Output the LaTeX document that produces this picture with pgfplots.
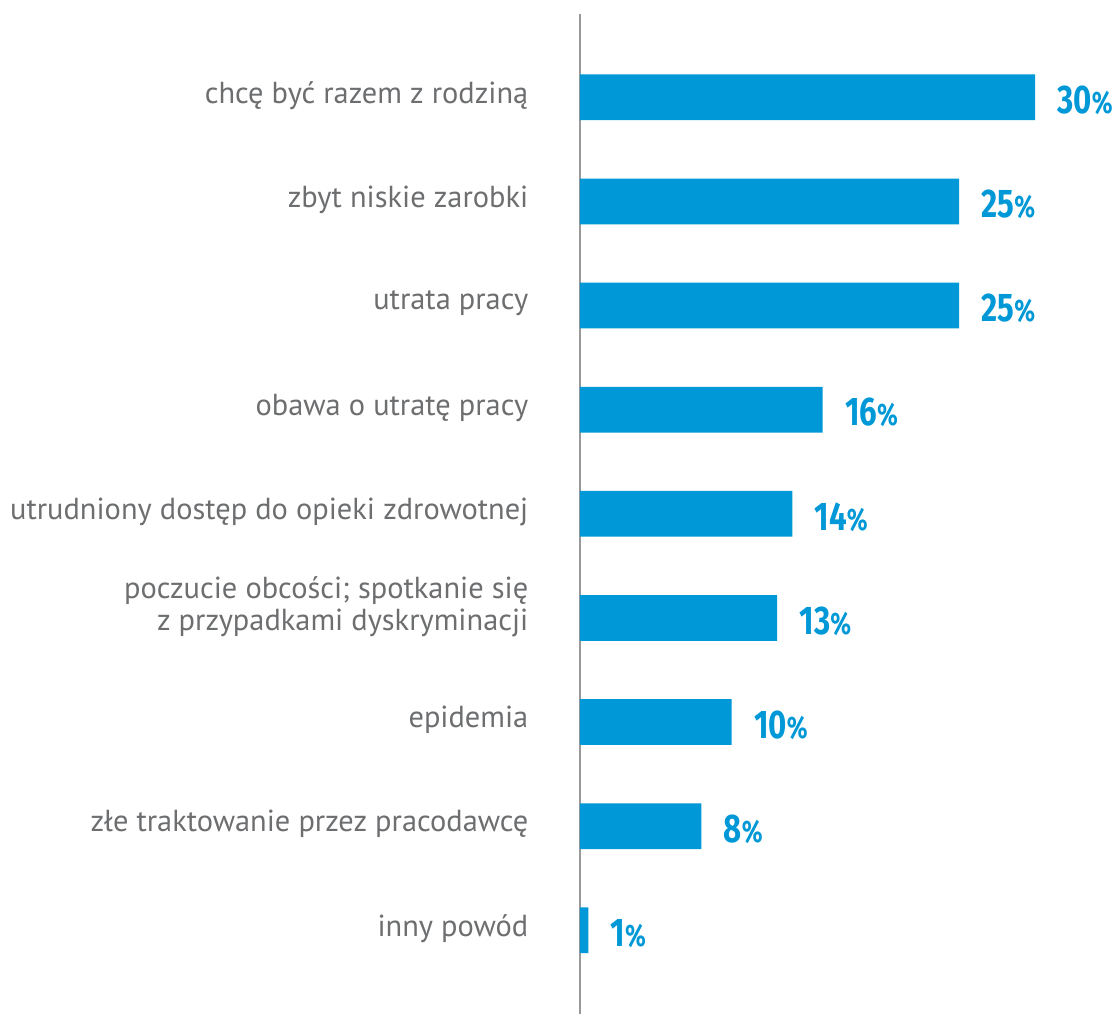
\documentclass[border=0pt]{standalone}
\usepackage{pgfplots}
\pgfplotsset{compat=1.18}
\usepackage{pgfplotstable}
\usepackage{fontspec}
\setmainfont{PT Sans}
\newfontfamily\valfont[FakeStretch=0.78]{Fira Sans}
\definecolor{barblue}{HTML}{0098D6}
\definecolor{labgray}{HTML}{6D6E70}
\definecolor{axgray}{HTML}{999999}
\pgfplotstableread{
x y m
30 0 30
25 1 25
25 2 25
16 3 16
14 4 14
13 5 13
10 6 10
8 7 8
0.55 8 1
}\datatable
\begin{document}
\begin{tikzpicture}
\begin{axis}[
  scale only axis,
  x=7.58333pt, y=52.0625pt,
  xmin=0, xmax=30,
  ymin=-0.8, ymax=8.8,
  y dir=reverse,
  axis x line=none,
  axis y line=left,
  axis line style={-, draw=axgray, line width=1pt},
  ytick={0,...,8},
  yticklabels={
    {chcę być razem z rodziną},
    {zbyt niskie zarobki},
    {utrata pracy},
    {obawa o utratę pracy},
    {utrudniony dostęp do opieki zdrowotnej},
    {\raisebox{4pt}[\height][\depth]{\begin{tabular}{@{}r@{}}poczucie obcości; spotkanie się\\z przypadkami dyskryminacji\end{tabular}}},
    {epidemia},
    {złe traktowanie przez pracodawcę},
    {inny powód}},
  ytick style={draw=none},
  yticklabel style={align=right, inner sep=0pt, font=\fontsize{15.2}{16}\selectfont, text=labgray, xshift=-23.5pt, yshift=1pt},
  clip=false,
]
\addplot[xbar, bar width=0.44, fill=barblue, draw=none,
  point meta=explicit,
  nodes near coords={\valfont\bfseries\fontsize{20}{20}\selectfont\pgfmathprintnumber[assume math mode=true]{\pgfplotspointmeta}{\fontsize{15.5}{15.5}\selectfont\%}},
  nodes near coords style={text=barblue, anchor=west, inner sep=0pt, xshift=11pt, yshift=-1.5pt},
] table[x=x, y=y, meta=m] {\datatable};
\coordinate (TL) at (rel axis cs:0,1);
\coordinate (BL) at (rel axis cs:0,0);
\end{axis}
\pgfresetboundingbox
\path ([xshift=-290pt,yshift=7pt]TL) rectangle ([xshift=266pt]BL);
\end{tikzpicture}
\end{document}
